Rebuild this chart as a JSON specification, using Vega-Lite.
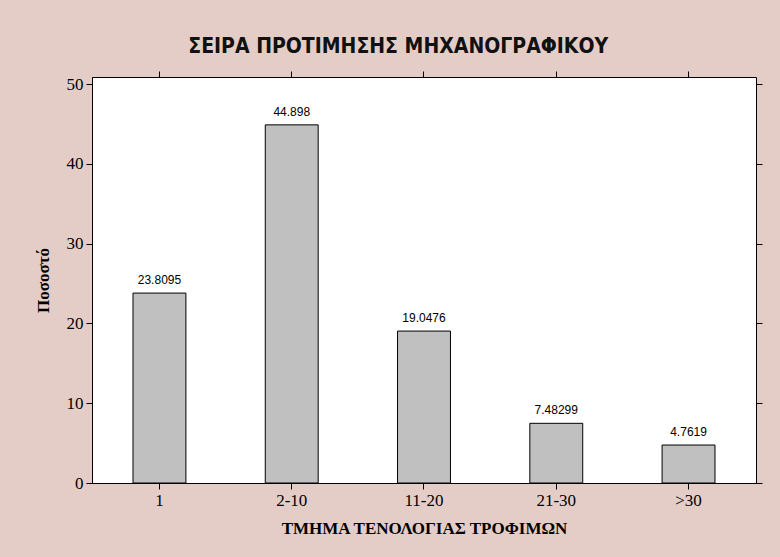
{
  "$schema": "https://vega.github.io/schema/vega-lite/v6.json",
  "width": 664,
  "height": 406,
  "autosize": {"type": "none"},
  "padding": {"left": 92, "top": 77, "right": 24, "bottom": 74},
  "background": "#e4cdc7",
  "title": {
    "text": "ΣΕΙΡΑ ΠΡΟΤΙΜΗΣΗΣ ΜΗΧΑΝΟΓΡΑΦΙΚΟΥ",
    "font": "Liberation Sans Narrow, DejaVu Sans Condensed",
    "fontSize": 21,
    "fontWeight": "bold",
    "color": "#111111",
    "anchor": "middle",
    "frame": "bounds",
    "offset": 14
  },
  "data": {
    "values": [
      {"group": "1", "value": 23.8095},
      {"group": "2-10", "value": 44.898},
      {"group": "11-20", "value": 19.0476},
      {"group": "21-30", "value": 7.48299},
      {"group": ">30", "value": 4.7619}
    ]
  },
  "config": {
    "view": {"stroke": "#000000", "strokeWidth": 1, "fill": "#ffffff"},
    "axis": {
      "grid": false,
      "domainColor": "#000000",
      "tickColor": "#000000",
      "tickSize": 6,
      "labelFont": "Liberation Serif",
      "labelFontSize": 17,
      "labelColor": "#000000",
      "labelPadding": 3,
      "titleFont": "Liberation Serif",
      "titleFontSize": 17,
      "titleFontWeight": "bold",
      "titleColor": "#000000"
    }
  },
  "encoding": {
    "x": {
      "field": "group",
      "type": "nominal",
      "sort": null,
      "scale": {"paddingInner": 0.6, "paddingOuter": 0.31}
    },
    "y": {
      "field": "value",
      "type": "quantitative",
      "scale": {"domain": [0, 50.9], "nice": false}
    }
  },
  "layer": [
    {
      "mark": {"type": "bar", "fill": "#c0c0c0", "stroke": "#000000", "strokeWidth": 1},
      "encoding": {
        "x": {
          "field": "group",
          "type": "nominal",
          "sort": null,
          "axis": {"orient": "bottom", "title": "ΤΜΗΜΑ ΤΕΝΟΛΟΓΙΑΣ ΤΡΟΦΙΜΩΝ", "labelAngle": 0, "titlePadding": 12}
        },
        "y": {
          "field": "value",
          "type": "quantitative",
          "axis": {"orient": "left", "title": "Ποσοστό", "values": [0, 10, 20, 30, 40, 50], "titlePadding": 14}
        }
      }
    },
    {
      "mark": {"type": "text", "baseline": "bottom", "dy": -6, "font": "Liberation Sans", "fontSize": 12, "color": "#000000"},
      "encoding": {
        "x": {
          "field": "group",
          "type": "nominal",
          "sort": null,
          "axis": {"orient": "top", "title": null, "labels": false, "domain": false}
        },
        "y": {
          "field": "value",
          "type": "quantitative",
          "axis": {"orient": "right", "title": null, "labels": false, "domain": false, "values": [0, 10, 20, 30, 40, 50]}
        },
        "text": {"field": "value", "type": "nominal"}
      }
    }
  ],
  "resolve": {"axis": {"x": "independent", "y": "independent"}}
}
